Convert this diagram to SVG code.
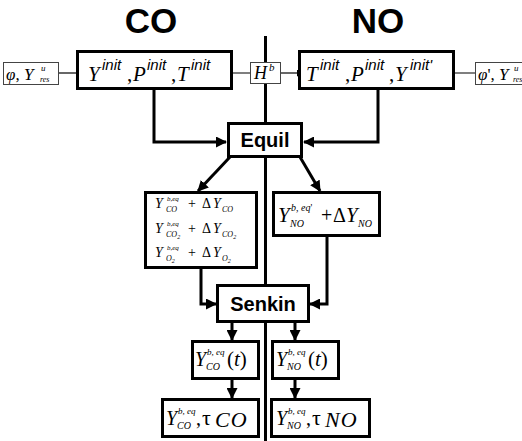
<svg xmlns="http://www.w3.org/2000/svg" width="522" height="441" viewBox="0 0 522 441">
<style>
.title{font-family:"Liberation Sans",Arial,sans-serif;font-weight:bold;font-size:35px;fill:#000}
.bold{font-family:"Liberation Sans",Arial,sans-serif;font-weight:bold;font-size:20px;fill:#000}
.m{font-family:"Liberation Serif","Times New Roman",serif;font-style:italic;fill:#000}
.r{font-family:"Liberation Serif","Times New Roman",serif;font-style:normal;fill:#000}
.s{font-family:"Liberation Sans",Arial,sans-serif;font-style:italic;fill:#000}
.box{fill:#fff;stroke:#000;stroke-width:3}
.sbox{fill:#fff;stroke:#444;stroke-width:1}
.thick{fill:none;stroke:#000;stroke-width:3}
.thin{fill:none;stroke:#000;stroke-width:1.2}
</style>
<defs>
<marker id="ah" markerUnits="userSpaceOnUse" markerWidth="11" markerHeight="11" refX="10" refY="5.5" orient="auto">
<path d="M0,0 L11,5.5 L0,11 z" fill="#000"/>
</marker>
<marker id="ahs" markerUnits="userSpaceOnUse" markerWidth="8" markerHeight="7" refX="7" refY="3.5" orient="auto">
<path d="M0,0 L8,3.5 L0,7 z" fill="#000"/>
</marker>
</defs>
<rect width="522" height="441" fill="#fff"/>
<text class="title" x="151" y="33" text-anchor="middle">CO</text>
<text class="title" x="378" y="33" text-anchor="middle">NO</text>
<g id="connectors">
<path class="thick" d="M265.5,36 V441"/>
<path class="thin" d="M59,73 H86" marker-end="url(#ahs)"/>
<path class="thin" d="M250,73 H203" marker-end="url(#ahs)"/>
<path class="thin" d="M281,73 H304" marker-end="url(#ahs)"/>
<path class="thin" d="M475,73 H422" marker-end="url(#ahs)"/>
<path class="thick" d="M154,89 V142 H226" marker-end="url(#ah)"/>
<path class="thick" d="M378,89 V142 H304" marker-end="url(#ah)"/>
<path class="thick" d="M230,157 L198,191" marker-end="url(#ah)"/>
<path class="thick" d="M300,157 L320,191" marker-end="url(#ah)"/>
<path class="thick" d="M201,268 V304 H216" marker-end="url(#ah)"/>
<path class="thick" d="M327,236 V304 H310" marker-end="url(#ah)"/>
<path class="thick" d="M232,322 V340" marker-end="url(#ah)"/>
<path class="thick" d="M295,322 V340" marker-end="url(#ah)"/>
<path class="thick" d="M232,379 V398" marker-end="url(#ah)"/>
<path class="thick" d="M295,379 V398" marker-end="url(#ah)"/>
</g>
<g id="in-co">
<rect class="sbox" x="3.5" y="62.5" width="55" height="22"/>
<text class="m" x="6" y="80" font-size="17">φ<tspan class="r">, </tspan>Y</text>
<text class="m" x="41" y="71" font-size="9">u</text>
<text class="m" x="40" y="82" font-size="8">res</text>
</g>
<g id="init-co">
<rect class="box" x="77.5" y="51.5" width="154" height="37"/>
<text class="m" x="88" y="81" font-size="21">Y</text>
<text class="s" x="102" y="70" font-size="15">init</text>
<text class="r" x="127" y="81" font-size="21">,</text>
<text class="m" x="133" y="81" font-size="21">P</text>
<text class="s" x="147" y="70" font-size="15">init</text>
<text class="r" x="171" y="81" font-size="21">,</text>
<text class="m" x="177" y="81" font-size="21">T</text>
<text class="s" x="191" y="70" font-size="15">init</text>
</g>
<g id="hb">
<rect class="sbox" x="250.5" y="62.5" width="30" height="21"/>
<text class="m" x="254" y="79" font-size="18">H</text>
<text class="m" x="269" y="71" font-size="11">b</text>
</g>
<g id="init-no">
<rect class="box" x="299.5" y="51.5" width="154" height="37"/>
<text class="m" x="306" y="81" font-size="21">T</text>
<text class="s" x="320" y="70" font-size="15">init</text>
<text class="r" x="345" y="81" font-size="21">,</text>
<text class="m" x="351" y="81" font-size="21">P</text>
<text class="s" x="365" y="70" font-size="15">init</text>
<text class="r" x="389" y="81" font-size="21">,</text>
<text class="m" x="395" y="81" font-size="21">Y</text>
<text class="s" x="410" y="70" font-size="15">init'</text>
</g>
<g id="in-no">
<rect class="sbox" x="475.5" y="62.5" width="50" height="22"/>
<text class="m" x="478" y="80" font-size="17">φ<tspan class="r">', </tspan>Y</text>
<text class="m" x="514" y="71" font-size="9">u</text>
<text class="m" x="513" y="82" font-size="8">res</text>
</g>
<g id="equil">
<rect class="box" x="228.5" y="123.5" width="73" height="33"/>
<text class="bold" x="265" y="147" text-anchor="middle">Equil</text>
</g>
<g id="eq-co">
<rect class="box" x="145.5" y="192.5" width="111" height="75"/>
<text class="m" x="155" y="208" font-size="14">Y</text>
<text class="m" x="167" y="201" font-size="7">b,eq</text>
<text class="m" x="166" y="212" font-size="8">CO</text>
<text class="r" x="188" y="208" font-size="14">+</text>
<text class="r" x="202" y="208" font-size="14">Δ</text>
<text class="m" x="213" y="208" font-size="14">Y</text>
<text class="m" x="222" y="212" font-size="8">CO</text>
<text class="m" x="155" y="233" font-size="14">Y</text>
<text class="m" x="167" y="226" font-size="7">b,eq</text>
<text class="m" x="166" y="237" font-size="8">CO<tspan font-size="6" dy="2">2</tspan></text>
<text class="r" x="188" y="233" font-size="14">+</text>
<text class="r" x="202" y="233" font-size="14">Δ</text>
<text class="m" x="213" y="233" font-size="14">Y</text>
<text class="m" x="222" y="237" font-size="8">CO<tspan font-size="6" dy="2">2</tspan></text>
<text class="m" x="155" y="257" font-size="14">Y</text>
<text class="m" x="167" y="250" font-size="7">b,eq</text>
<text class="m" x="166" y="261" font-size="8">O<tspan font-size="6" dy="2">2</tspan></text>
<text class="r" x="188" y="257" font-size="14">+</text>
<text class="r" x="202" y="257" font-size="14">Δ</text>
<text class="m" x="213" y="257" font-size="14">Y</text>
<text class="m" x="222" y="261" font-size="8">O<tspan font-size="6" dy="2">2</tspan></text>
</g>
<g id="eq-no">
<rect class="box" x="273.5" y="192.5" width="106" height="43"/>
<text class="m" x="278" y="222" font-size="21">Y</text>
<text class="m" x="291" y="211" font-size="10">b, eq<tspan class="r">'</tspan></text>
<text class="m" x="290" y="227" font-size="10">NO</text>
<text class="r" x="321" y="222" font-size="20">+</text>
<text class="r" x="333" y="222" font-size="20">Δ</text>
<text class="m" x="346" y="222" font-size="21">Y</text>
<text class="m" x="358" y="227" font-size="10">NO</text>
</g>
<g id="senkin">
<rect class="box" x="217.5" y="285.5" width="91" height="36"/>
<text class="bold" x="263" y="311" text-anchor="middle">Senkin</text>
</g>
<g id="yt-co">
<rect class="box" x="192.5" y="341.5" width="66" height="37"/>
<text class="m" x="195" y="366" font-size="20">Y</text>
<text class="m" x="207" y="355" font-size="9">b, eq</text>
<text class="m" x="206" y="370" font-size="10">CO</text>
<text class="r" x="227" y="366" font-size="21">(<tspan class="m">t</tspan>)</text>
</g>
<g id="yt-no">
<rect class="box" x="272.5" y="341.5" width="66" height="37"/>
<text class="m" x="276" y="366" font-size="20">Y</text>
<text class="m" x="288" y="355" font-size="9">b, eq</text>
<text class="m" x="287" y="370" font-size="10">NO</text>
<text class="r" x="308" y="366" font-size="21">(<tspan class="m">t</tspan>)</text>
</g>
<g id="res-co">
<rect class="box" x="162.5" y="399.5" width="96" height="37"/>
<text class="m" x="166" y="425" font-size="20">Y</text>
<text class="m" x="178" y="414" font-size="9">b, eq</text>
<text class="m" x="177" y="429" font-size="10">CO</text>
<text class="r" x="196" y="425" font-size="20">,</text>
<text class="r" x="202" y="425" font-size="22">τ</text>
<text class="m" x="215" y="427" font-size="22" letter-spacing="1">CO</text>
</g>
<g id="res-no">
<rect class="box" x="271.5" y="399.5" width="98" height="37"/>
<text class="m" x="276" y="425" font-size="20">Y</text>
<text class="m" x="288" y="414" font-size="9">b, eq</text>
<text class="m" x="287" y="429" font-size="10">NO</text>
<text class="r" x="306" y="425" font-size="20">,</text>
<text class="r" x="312" y="425" font-size="22">τ</text>
<text class="m" x="325" y="427" font-size="22" letter-spacing="1">NO</text>
</g>
</svg>
